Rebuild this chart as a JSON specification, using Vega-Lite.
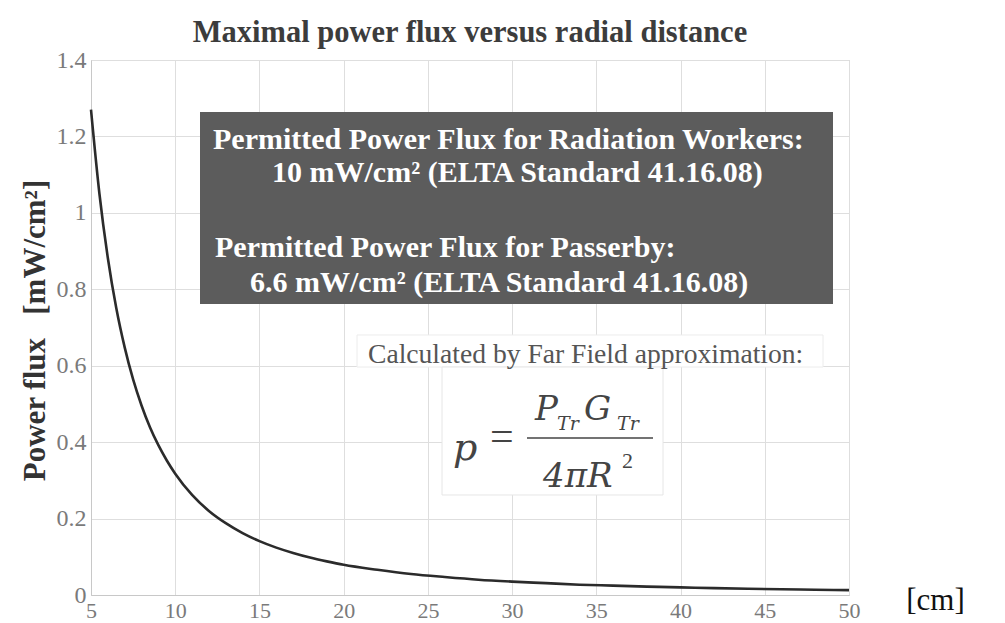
{
  "$schema": "https://vega.github.io/schema/vega-lite/v6.json",
  "autosize": {"type": "none"},
  "padding": {"left": 91, "top": 60, "right": 156, "bottom": 28},
  "width": 758,
  "height": 535,
  "background": "white",
  "title": {
    "text": "Maximal power flux versus radial distance",
    "font": "Liberation Serif",
    "fontSize": 30.5,
    "fontWeight": "bold",
    "color": "#3c3c3c",
    "anchor": "middle",
    "offset": 0
  },
  "config": {
    "view": {"stroke": "#c8c8c8", "strokeWidth": 1},
    "font": "Liberation Serif",
    "axis": {"labelFont": "Liberation Serif", "titleFont": "Liberation Serif"}
  },
  "layer": [
    {
      "data": {"values": [{"R": 5, "p": 1.27}, {"R": 5.5, "p": 1.05}, {"R": 6, "p": 0.882}, {"R": 6.5, "p": 0.751}, {"R": 7, "p": 0.648}, {"R": 7.5, "p": 0.564}, {"R": 8, "p": 0.496}, {"R": 8.5, "p": 0.439}, {"R": 9, "p": 0.392}, {"R": 9.5, "p": 0.352}, {"R": 10, "p": 0.3175}, {"R": 11, "p": 0.262}, {"R": 12, "p": 0.22}, {"R": 13, "p": 0.188}, {"R": 14, "p": 0.162}, {"R": 15, "p": 0.141}, {"R": 16, "p": 0.124}, {"R": 17, "p": 0.11}, {"R": 18, "p": 0.098}, {"R": 19, "p": 0.088}, {"R": 20, "p": 0.079}, {"R": 22, "p": 0.066}, {"R": 24, "p": 0.055}, {"R": 26, "p": 0.047}, {"R": 28, "p": 0.04}, {"R": 30, "p": 0.035}, {"R": 32, "p": 0.031}, {"R": 34, "p": 0.027}, {"R": 36, "p": 0.0245}, {"R": 38, "p": 0.022}, {"R": 40, "p": 0.02}, {"R": 42, "p": 0.018}, {"R": 44, "p": 0.0164}, {"R": 46, "p": 0.015}, {"R": 48, "p": 0.0138}, {"R": 50, "p": 0.0127}]},
      "mark": {"type": "line", "color": "#2b2b2b", "strokeWidth": 2.6, "interpolate": "monotone"},
      "encoding": {
        "x": {
          "field": "R", "type": "quantitative",
          "scale": {"domain": [5, 50], "nice": false, "zero": false},
          "axis": {
            "title": "[cm]",
            "values": [5, 10, 15, 20, 25, 30, 35, 40, 45, 50],
            "format": "d",
            "labelFont": "Liberation Serif", "labelFontSize": 22, "labelColor": "#7a7a7a",
            "labelPadding": 5, "ticks": false, "domainColor": "#c8c8c8",
            "grid": true, "gridColor": "#dedede", "gridWidth": 1,
            "labelFlush": false,
            "titleFont": "Liberation Serif", "titleFontSize": 31, "titleFontWeight": "normal", "titleColor": "#111111",
            "titleX": 844, "titleY": 5, "titleAlign": "center", "titleBaseline": "middle", "titleAnchor": null
          }
        },
        "y": {
          "field": "p", "type": "quantitative",
          "scale": {"domain": [0, 1.4], "nice": false},
          "axis": {
            "title": "Power flux\u00a0\u00a0\u00a0[mW/cm²]",
            "values": [0, 0.2, 0.4, 0.6, 0.8, 1, 1.2, 1.4],
            "format": "~g",
            "labelFont": "Liberation Serif", "labelFontSize": 24, "labelColor": "#7a7a7a",
            "labelPadding": 5, "ticks": false, "domainColor": "#c8c8c8",
            "grid": true, "gridColor": "#dedede", "gridWidth": 1,
            "labelFlush": false,
            "titleFont": "Liberation Serif", "titleFontSize": 31, "titleFontWeight": "bold", "titleColor": "#333333",
            "titleX": -47, "titleY": 270, "titleAlign": "center", "titleBaseline": "alphabetic", "titleAngle": -90
          }
        }
      }
    },
    {
      "data": {"values": [{"box": "standards"}]},
      "mark": {"type": "rect", "color": "#5c5c5c"},
      "encoding": {
        "x": {"datum": 11.471, "type": "quantitative"},
        "x2": {"datum": 49.05},
        "y": {"datum": 1.2639, "type": "quantitative"},
        "y2": {"datum": 0.7615}
      }
    },
    {
      "data": {"values": [{"box": "label"}]},
      "mark": {"type": "rect", "fill": "white", "stroke": "#ececec", "strokeWidth": 1},
      "encoding": {
        "x": {"datum": 20.792, "type": "quantitative"},
        "x2": {"datum": 48.457},
        "y": {"datum": 0.6804, "type": "quantitative"},
        "y2": {"datum": 0.5966}
      }
    },
    {
      "data": {"values": [{"box": "formula"}]},
      "mark": {"type": "rect", "fill": "white", "stroke": "#e6e6e6", "strokeWidth": 1},
      "encoding": {
        "x": {"datum": 25.838, "type": "quantitative"},
        "x2": {"datum": 38.959},
        "y": {"datum": 0.5966, "type": "quantitative"},
        "y2": {"datum": 0.2617}
      }
    },
    {
      "data": {"values": [{"label": "Permitted Power Flux for Radiation Workers:"}]},
      "mark": {"type": "text", "align": "left", "baseline": "middle", "font": "Liberation Serif", "fontSize": 30, "fontWeight": "bold", "color": "#ffffff"},
      "encoding": {"text": {"field": "label"}, "x": {"datum": 12.243, "type": "quantitative"}, "y": {"datum": 1.1907, "type": "quantitative"}}
    },
    {
      "data": {"values": [{"label": "10 mW/cm² (ELTA Standard 41.16.08)"}]},
      "mark": {"type": "text", "align": "left", "baseline": "middle", "font": "Liberation Serif", "fontSize": 30, "fontWeight": "bold", "color": "#ffffff"},
      "encoding": {"text": {"field": "label"}, "x": {"datum": 15.746, "type": "quantitative"}, "y": {"datum": 1.1043, "type": "quantitative"}}
    },
    {
      "data": {"values": [{"label": "Permitted Power Flux for Passerby:"}]},
      "mark": {"type": "text", "align": "left", "baseline": "middle", "font": "Liberation Serif", "fontSize": 30, "fontWeight": "bold", "color": "#ffffff"},
      "encoding": {"text": {"field": "label"}, "x": {"datum": 12.362, "type": "quantitative"}, "y": {"datum": 0.908, "type": "quantitative"}}
    },
    {
      "data": {"values": [{"label": "6.6 mW/cm² (ELTA Standard 41.16.08)"}]},
      "mark": {"type": "text", "align": "left", "baseline": "middle", "font": "Liberation Serif", "fontSize": 30, "fontWeight": "bold", "color": "#ffffff"},
      "encoding": {"text": {"field": "label"}, "x": {"datum": 14.44, "type": "quantitative"}, "y": {"datum": 0.8165, "type": "quantitative"}}
    },
    {
      "data": {"values": [{"label": "Calculated by Far Field approximation:"}]},
      "mark": {"type": "text", "align": "left", "baseline": "middle", "font": "Liberation Serif", "fontSize": 27.6, "color": "#555555"},
      "encoding": {"text": {"field": "label"}, "x": {"datum": 21.445, "type": "quantitative"}, "y": {"datum": 0.628, "type": "quantitative"}}
    },
    {
      "data": {"values": [{"label": "p"}]},
      "mark": {"type": "text", "align": "left", "baseline": "alphabetic", "font": "DejaVu Serif", "fontSize": 38, "fontStyle": "italic", "color": "#444444"},
      "encoding": {"text": {"field": "label"}, "x": {"datum": 26.491, "type": "quantitative"}, "y": {"datum": 0.3533, "type": "quantitative"}}
    },
    {
      "data": {"values": [{"label": "="}]},
      "mark": {"type": "text", "align": "left", "baseline": "alphabetic", "font": "Liberation Serif", "fontSize": 42, "color": "#444444"},
      "encoding": {"text": {"field": "label"}, "x": {"datum": 28.688, "type": "quantitative"}, "y": {"datum": 0.3794, "type": "quantitative"}}
    },
    {
      "data": {"values": [{"label": "fraction"}]},
      "mark": {"type": "rule", "color": "#444444", "strokeWidth": 1.6},
      "encoding": {
        "x": {"datum": 30.884, "type": "quantitative"},
        "x2": {"datum": 38.365},
        "y": {"datum": 0.4108, "type": "quantitative"}
      }
    },
    {
      "data": {"values": [{"label": "P"}]},
      "mark": {"type": "text", "align": "left", "baseline": "alphabetic", "font": "DejaVu Serif", "fontSize": 34, "fontStyle": "italic", "color": "#444444"},
      "encoding": {"text": {"field": "label"}, "x": {"datum": 31.36, "type": "quantitative"}, "y": {"datum": 0.4579, "type": "quantitative"}}
    },
    {
      "data": {"values": [{"label": "Tr"}]},
      "mark": {"type": "text", "align": "left", "baseline": "alphabetic", "font": "DejaVu Serif", "fontSize": 19, "fontStyle": "italic", "color": "#444444"},
      "encoding": {"text": {"field": "label"}, "x": {"datum": 32.666, "type": "quantitative"}, "y": {"datum": 0.4318, "type": "quantitative"}}
    },
    {
      "data": {"values": [{"label": "G"}]},
      "mark": {"type": "text", "align": "left", "baseline": "alphabetic", "font": "DejaVu Serif", "fontSize": 34, "fontStyle": "italic", "color": "#444444"},
      "encoding": {"text": {"field": "label"}, "x": {"datum": 34.269, "type": "quantitative"}, "y": {"datum": 0.4579, "type": "quantitative"}}
    },
    {
      "data": {"values": [{"label": "Tr"}]},
      "mark": {"type": "text", "align": "left", "baseline": "alphabetic", "font": "DejaVu Serif", "fontSize": 19, "fontStyle": "italic", "color": "#444444"},
      "encoding": {"text": {"field": "label"}, "x": {"datum": 36.228, "type": "quantitative"}, "y": {"datum": 0.4318, "type": "quantitative"}}
    },
    {
      "data": {"values": [{"label": "4πR"}]},
      "mark": {"type": "text", "align": "left", "baseline": "alphabetic", "font": "DejaVu Serif", "fontSize": 34, "fontStyle": "italic", "color": "#444444"},
      "encoding": {"text": {"field": "label"}, "x": {"datum": 31.835, "type": "quantitative"}, "y": {"datum": 0.2826, "type": "quantitative"}}
    },
    {
      "data": {"values": [{"label": "2"}]},
      "mark": {"type": "text", "align": "left", "baseline": "alphabetic", "font": "Liberation Serif", "fontSize": 22, "color": "#444444"},
      "encoding": {"text": {"field": "label"}, "x": {"datum": 36.525, "type": "quantitative"}, "y": {"datum": 0.3323, "type": "quantitative"}}
    }
  ]
}
